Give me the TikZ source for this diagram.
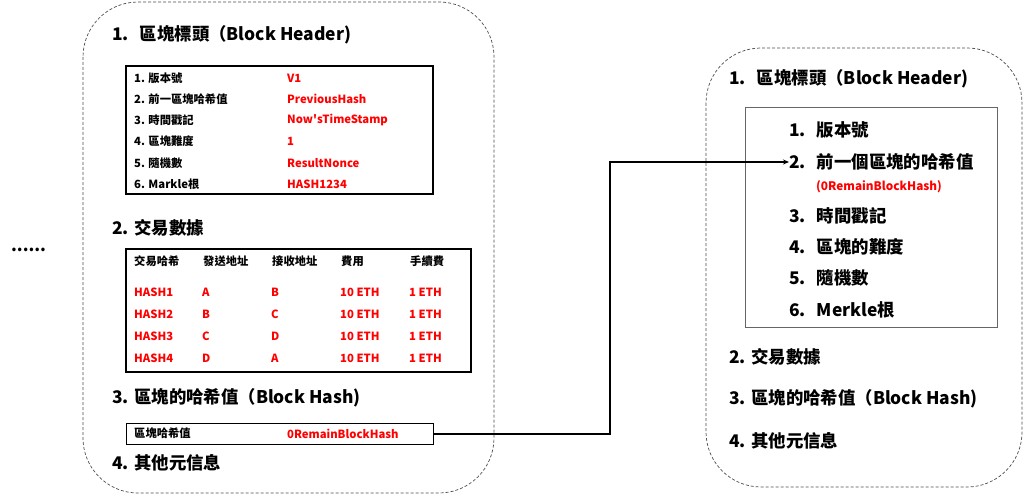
\documentclass[tikz,border=0pt]{standalone}
\usepackage{fontspec}
\setmainfont{Noto Sans CJK TC}
\usetikzlibrary{arrows.meta,positioning}

\begin{document}
\begin{tikzpicture}[x=1pt, y=-1pt,
  block/.style={draw=black!70, dash pattern=on 3pt off 2pt,
                rounded corners=55pt, line width=0.7pt},
  frame/.style={draw=black, line width=1.1pt},
  head/.style={anchor=west, inner sep=0pt,
               font=\fontsize{17.4}{17}\selectfont\bfseries},
  cell/.style={anchor=west, inner sep=0pt,
               font=\fontsize{11.3}{12}\selectfont\bfseries},
  val/.style={cell, text=red},
  link/.style={draw, line width=1.8pt, -{Stealth[length=6pt,width=5pt]}}]

\useasboundingbox (0,0) rectangle (1024,497);

% earlier block
\node[anchor=west, inner sep=0pt, font=\fontsize{16.5}{16}\selectfont\bfseries] (dots) at (11,250) {......};
\draw[block] (83,2) rectangle (494,493);

\node[head] (lh1) at (112,35) {1.\hspace{11pt}區塊標頭（Block Header)};
\draw[frame] (126,66) rectangle (433,194);
\foreach \t/\v [count=\i] in {版本號/V1, 前一區塊哈希值/PreviousHash,
    時間戳記/Now\textquotesingle sTimeStamp, 區塊難度/1, 隨機數/ResultNonce, Markle根/HASH1234}{
  \node[cell] (lk\i) at (134,56.8+21.2*\i) {\i. \t};
  \node[val]  (lv\i) at (287,56.8+21.2*\i) {\v};
}

\node[head] (lh2) at (112,228) {2. 交易數據};
\draw[frame] (126,249) rectangle (471,372);
\foreach \t [count=\j] in {交易哈希, 發送地址, 接收地址, 費用, 手續費}
  \node[cell] (th\j) at (65+69*\j,261) {\t};
\foreach \h/\s/\r [count=\i] in {HASH1/A/B, HASH2/B/C, HASH3/C/D, HASH4/D/A}{
  \node[val] (tx\i) at (134,270+22*\i) {\h};
  \node[val] at (202,270+22*\i) {\s};
  \node[val] at (271,270+22*\i) {\r};
  \node[val] at (340,270+22*\i) {10 ETH};
  \node[val] at (409,270+22*\i) {1 ETH};
}

\node[head] (lh3) at (112,398) {3. 區塊的哈希值（Block Hash)};
\node[frame, anchor=north west, minimum width=307pt, minimum height=21pt,
      inner sep=0pt] (hashbox) at (126,423) {};
\node[cell] (hk) at (134,433.5) {區塊哈希值};
\node[val]  (hv) at (287,433.5) {0RemainBlockHash};
\node[head] (lh4) at (112,463) {4. 其他元信息};

% next block
\draw[block] (706,48) rectangle (1022,487);
\node[head] (rh1) at (729,79) {1.\hspace{11pt}區塊標頭（Block Header)};
\draw[draw=black!60, line width=1pt] (745,108) rectangle (997,327);
\foreach \t/\y [count=\i] in {版本號/130, 前一個區塊的哈希值/162, 時間戳記/216,
    區塊的難度/247, 隨機數/278, Merkle根/310}
  \node[head] (r\i) at (789,\y) {\i.\hspace{11pt}\t};
\node[val, font=\fontsize{11.8}{12}\selectfont\bfseries] (rv2) at (816,187) {(0RemainBlockHash)};
\node[head] (rh2) at (729,357) {2. 交易數據};
\node[head] (rh3) at (729,399) {3. 區塊的哈希值（Block Hash)};
\node[head] (rh4) at (729,441) {4. 其他元信息};

\draw[link] (hashbox.east) -- ++(176,0) |- (r2.west);
\end{tikzpicture}
\end{document}
